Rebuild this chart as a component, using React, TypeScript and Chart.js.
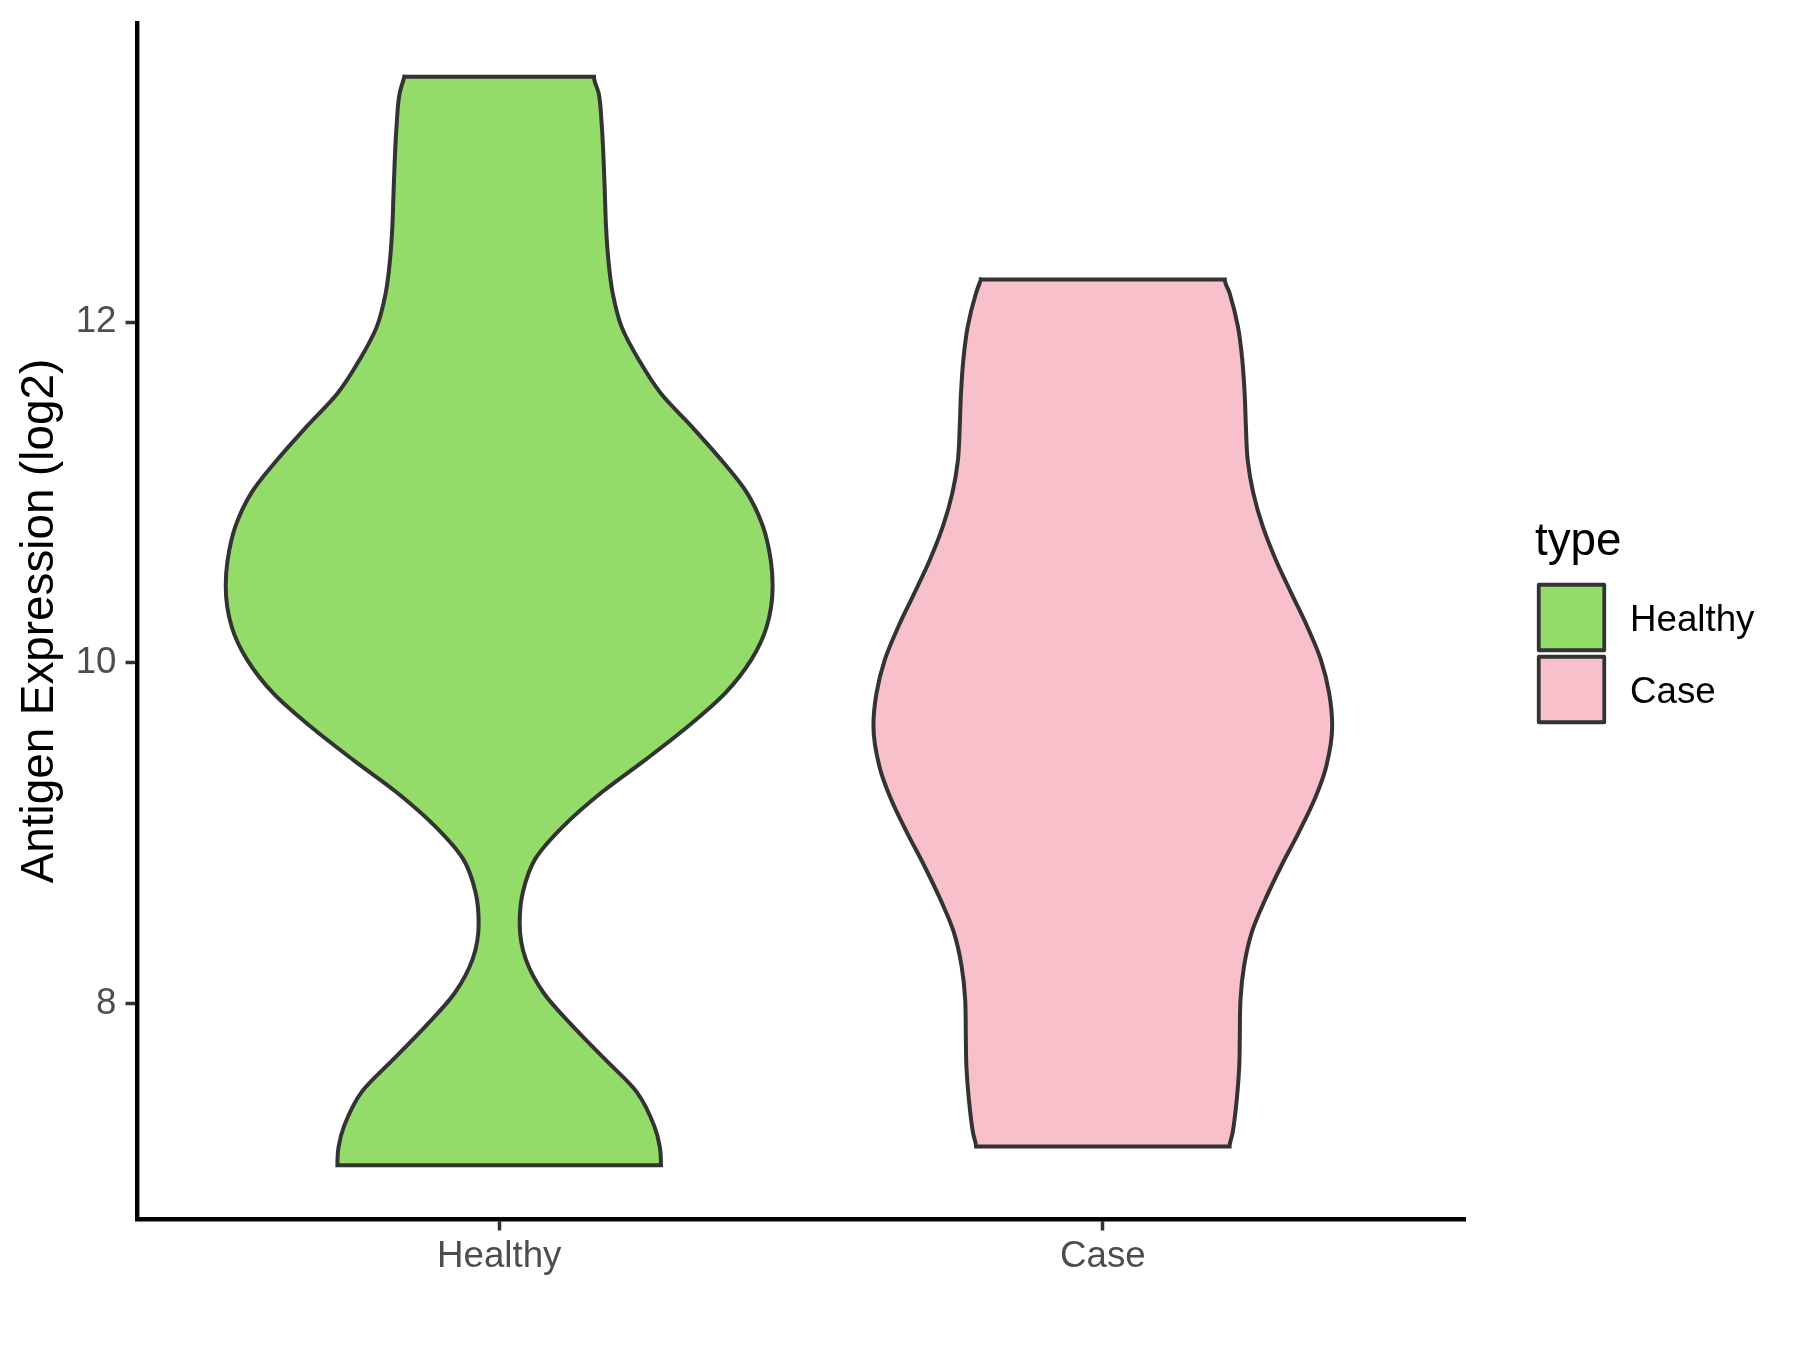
import React, { useEffect, useRef } from 'react';
import { Chart, registerables } from 'chart.js';

Chart.register(...registerables);

// ---- data ----
const categories = ['Healthy', 'Case'];
const categoryPositions = [1, 2];
const fillColors = ['#94DC6A', '#F7C0CB'];
const yTickValues = [8, 10, 12];
const yAxisTitle = 'Antigen Expression (log2)';
const legendTitle = 'type';

// violin outlines: expression value (top -> bottom) and half width (x units)
const healthyValues = [
  13.44, 13.34, 13.15, 12.95, 12.76, 12.56, 12.36, 12.17, 11.97, 11.78, 11.58, 11.39,
  11.19, 11.0, 10.8, 10.6, 10.45, 10.21, 10.02, 9.82, 9.63, 9.43, 9.24, 9.04, 8.85,
  8.65, 8.47, 8.26, 8.06, 7.87, 7.67, 7.48, 7.28, 7.16, 7.05,
];
const healthyHalfWidths = [
  0.157, 0.165, 0.17, 0.173, 0.175, 0.177, 0.181, 0.188, 0.203, 0.231, 0.268, 0.318,
  0.368, 0.41, 0.437, 0.45, 0.453, 0.443, 0.418, 0.374, 0.314, 0.242, 0.17, 0.106, 0.06,
  0.039, 0.034, 0.044, 0.074, 0.121, 0.176, 0.228, 0.257, 0.266, 0.268,
];
const caseValues = [
  12.25, 12.17, 11.97, 11.78, 11.58, 11.39, 11.19, 11.0, 10.8, 10.6, 10.41, 10.21, 10.02,
  9.82, 9.63, 9.39, 9.2, 9.0, 8.81, 8.61, 8.42, 8.22, 8.02, 7.83, 7.63, 7.44, 7.24, 7.16,
];
const caseHalfWidths = [
  0.202, 0.21, 0.224, 0.231, 0.235, 0.237, 0.24, 0.249, 0.265, 0.287, 0.312, 0.339, 0.361,
  0.375, 0.38, 0.37, 0.351, 0.324, 0.296, 0.269, 0.247, 0.234, 0.228, 0.227, 0.226, 0.222,
  0.215, 0.21,
];

const FONT = "'Liberation Sans', Arial, Helvetica, sans-serif";

type Pt = { x: number; y: number };

// closed outline: top edge, right side down, bottom edge, left side back up.
function violinOutline(center: number, values: number[], halfWidths: number[]): Pt[] {
  const n = values.length;
  const pts: Pt[] = [];
  pts.push({ x: center - halfWidths[0], y: values[0] });
  for (let i = 0; i < n; i++) pts.push({ x: center + halfWidths[i], y: values[i] });
  for (let i = n - 1; i >= 0; i--) pts.push({ x: center - halfWidths[i], y: values[i] });
  return pts;
}

const legendPlugin = {
  id: 'typeLegend',
  afterDraw(chart: any) {
    const ctx = chart.ctx as CanvasRenderingContext2D;
    ctx.save();
    ctx.textAlign = 'left';
    ctx.textBaseline = 'alphabetic';
    ctx.fillStyle = '#000000';
    ctx.font = `45.8px ${FONT}`;
    ctx.fillText(legendTitle, 1535, 555);
    categories.forEach((cat, i) => {
      const top = 583 + i * 72;
      ctx.fillStyle = fillColors[i];
      ctx.fillRect(1538.75, top + 1.75, 65.5, 65.5);
      ctx.lineWidth = 3.8;
      ctx.strokeStyle = '#333333';
      ctx.lineJoin = 'round';
      ctx.strokeRect(1538.75, top + 1.75, 65.5, 65.5);
      ctx.fillStyle = '#000000';
      ctx.font = `36.7px ${FONT}`;
      ctx.fillText(cat, 1630, top + 47.5);
    });
    ctx.restore();
  },
};

export default function App() {
  const canvasRef = useRef<HTMLCanvasElement | null>(null);

  useEffect(() => {
    if (!canvasRef.current) return;
    const outlines = [
      violinOutline(categoryPositions[0], healthyValues, healthyHalfWidths),
      violinOutline(categoryPositions[1], caseValues, caseHalfWidths),
    ];
    const tickGrid = {
      display: true,
      drawOnChartArea: false,
      drawTicks: true,
      tickLength: 11.5,
      tickColor: '#333333',
      tickWidth: 3.5,
    };
    const border = { display: true, color: '#000000', width: 4.4 };
    const chart = new Chart(canvasRef.current, {
      type: 'scatter',
      data: {
        datasets: categories.map((cat, i) => ({
          label: cat,
          data: outlines[i],
          showLine: true,
          fill: 'shape',
          backgroundColor: fillColors[i],
          borderColor: '#333333',
          borderWidth: 4,
          borderCapStyle: 'square',
          borderJoinStyle: 'miter',
          pointRadius: 0,
          pointHoverRadius: 0,
          cubicInterpolationMode: 'monotone',
        })) as any,
      },
      options: {
        animation: false,
        responsive: false,
        devicePixelRatio: 1,
        indexAxis: 'y',
        layout: { padding: { left: 0, top: 23, right: 335, bottom: 0 } },
        plugins: { legend: { display: false }, tooltip: { enabled: false } },
        events: [],
        scales: {
          x: {
            type: 'linear',
            position: 'bottom',
            min: 0.4,
            max: 2.6,
            afterBuildTicks: (axis: any) => {
              axis.ticks = categoryPositions.map((v) => ({ value: v }));
            },
            afterFit: (scale: any) => {
              scale.height = 131;
              scale.paddingLeft = 0;
              scale.paddingRight = 0;
            },
            ticks: {
              autoSkip: false,
              maxRotation: 0,
              padding: 4.5,
              color: '#4D4D4D',
              font: { size: 36.7, family: FONT },
              callback: (v: any) => {
                const idx = categoryPositions.indexOf(Number(v));
                return idx >= 0 ? categories[idx] : '';
              },
            },
            grid: tickGrid,
            border,
          },
          y: {
            type: 'linear',
            position: 'left',
            min: 6.735,
            max: 13.755,
            afterBuildTicks: (axis: any) => {
              axis.ticks = yTickValues.map((v) => ({ value: v }));
            },
            afterFit: (scale: any) => {
              scale.width = 137;
              scale.paddingTop = 0;
              scale.paddingBottom = 0;
            },
            ticks: {
              autoSkip: false,
              padding: 9,
              color: '#4D4D4D',
              font: { size: 36.7, family: FONT },
              callback: (v: any) => String(v),
            },
            grid: tickGrid,
            border,
            title: {
              display: true,
              text: yAxisTitle,
              color: '#000000',
              font: { size: 45.8, family: FONT },
              padding: { top: 12.5, bottom: 0 },
            },
          },
        },
      } as any,
      plugins: [legendPlugin],
    });
    return () => chart.destroy();
  }, []);

  return (
    <div
      style={{
        position: 'absolute',
        left: 0,
        top: 0,
        width: 1800,
        height: 1350,
        background: '#ffffff',
      }}
    >
      <canvas ref={canvasRef} width={1800} height={1350} style={{ display: 'block', width: 1800, height: 1350 }} />
    </div>
  );
}
